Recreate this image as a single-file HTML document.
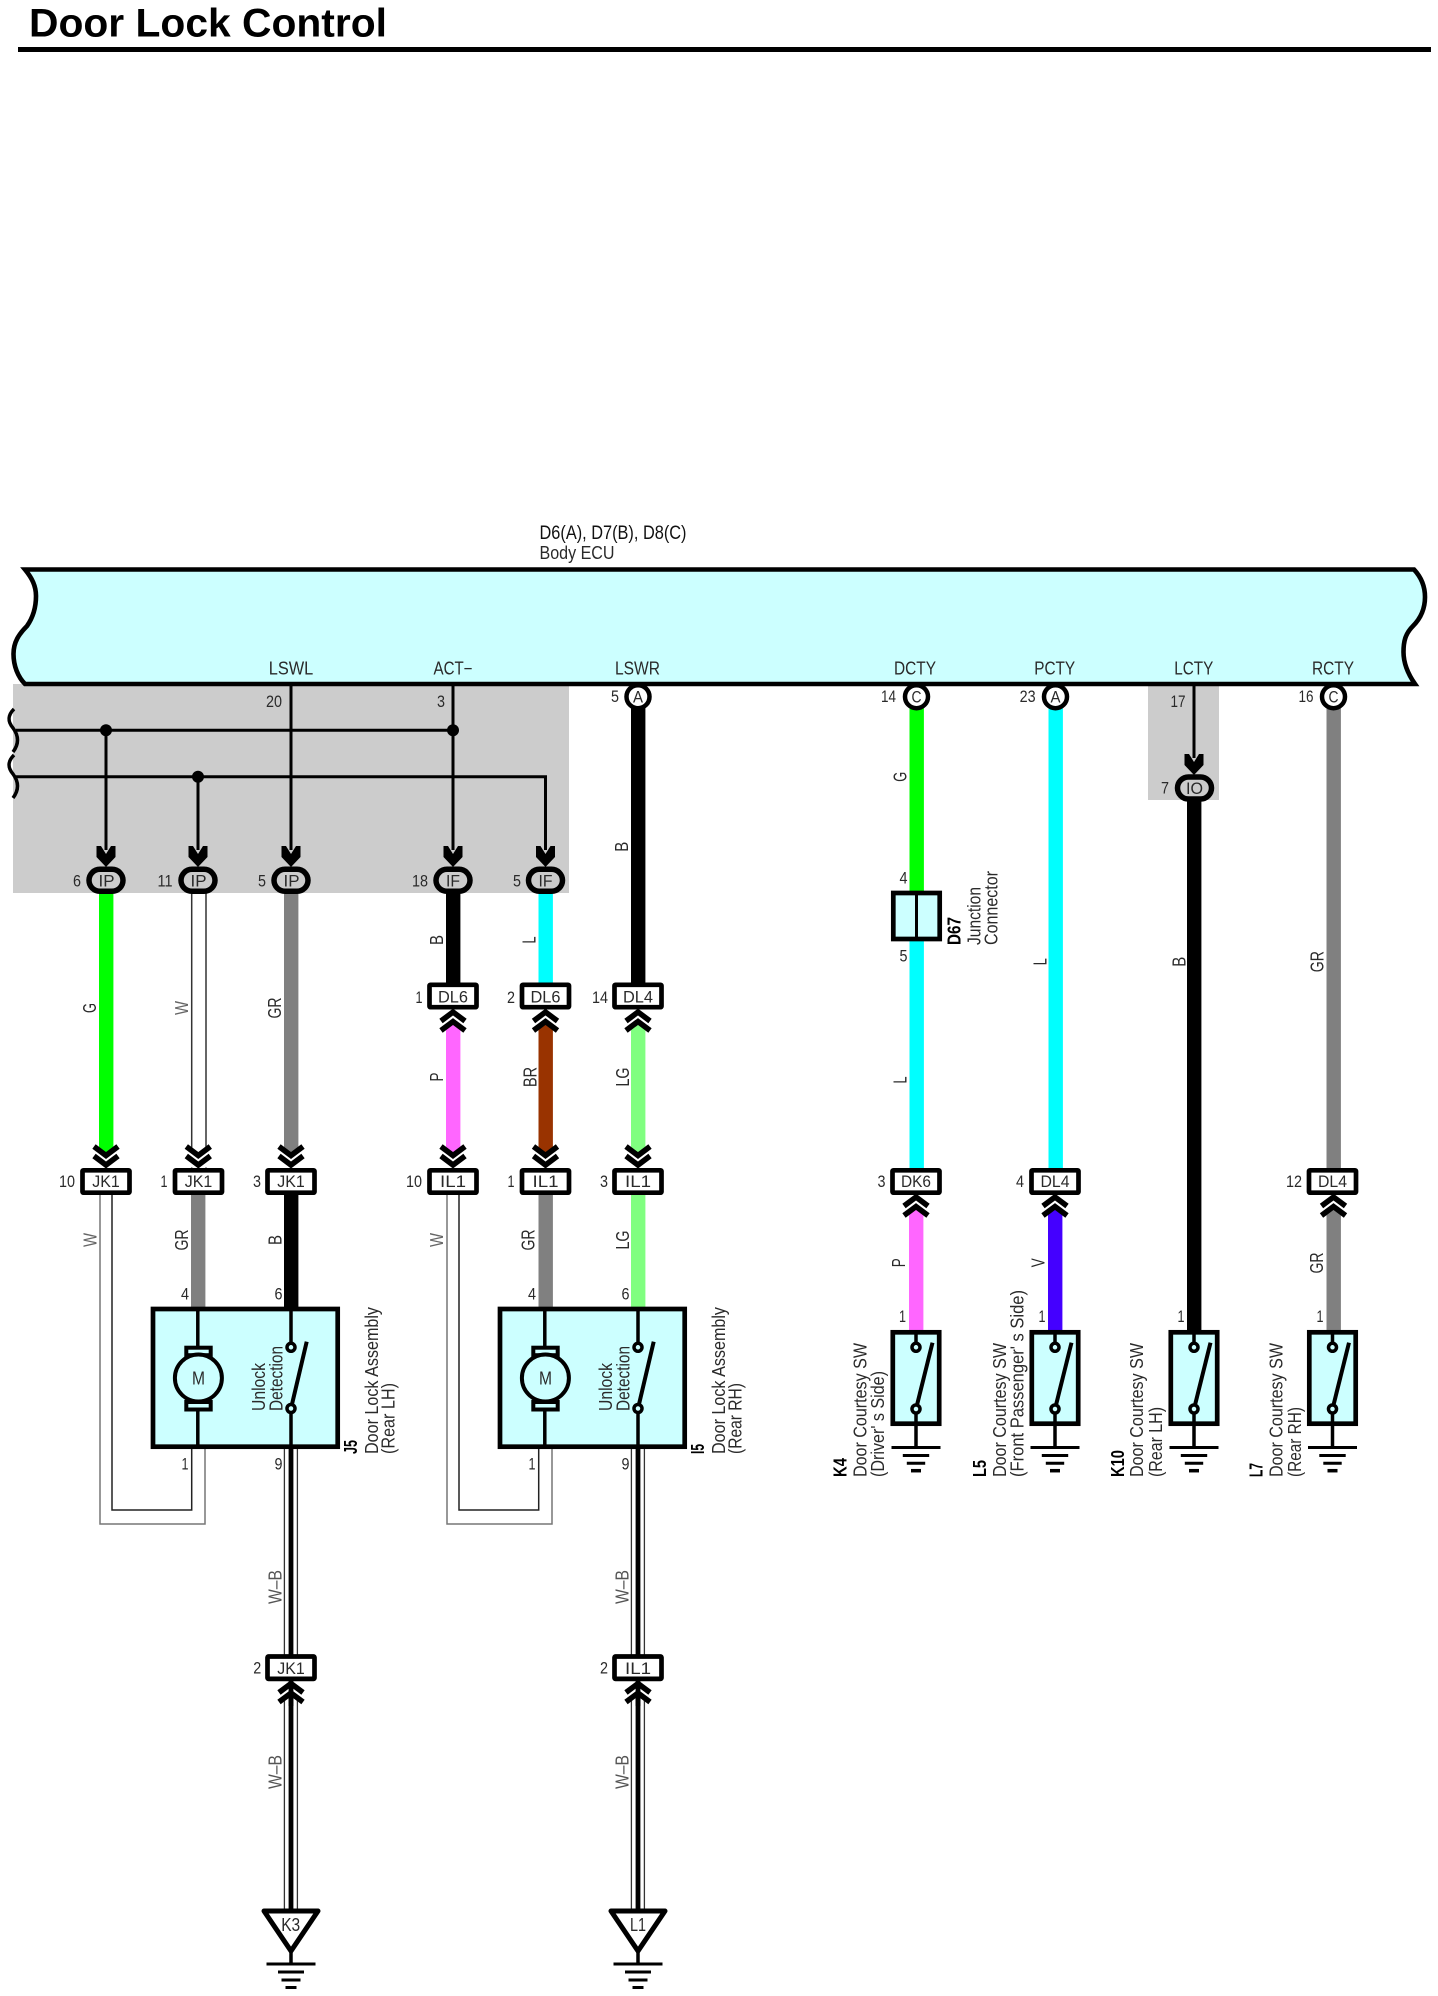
<!DOCTYPE html>
<html><head><meta charset="utf-8"><title>Door Lock Control</title>
<style>
html,body{margin:0;padding:0;background:#fff}
svg{display:block}
text{font-family:"Liberation Sans",Arial,sans-serif;fill:#2a2a2a;font-size:18px}
.m{text-anchor:middle}
.b{font-weight:bold;fill:#000}
.g{fill:#666}
.n{font-size:17px}
</style></head><body>
<svg xmlns="http://www.w3.org/2000/svg" width="1438" height="1996" viewBox="0 0 1438 1996">
<defs>
<g id="cu"><path d="M-9,0H9V18.75L0,12L-9,18.75Z" fill="#fff"/><polyline points="-12,11.5 0,2.5 12,11.5" fill="none" stroke="#000" stroke-width="5.5"/><polyline points="-12,21 0,12 12,21" fill="none" stroke="#000" stroke-width="5.5"/></g>
<g id="ah"><path d="M-9.5,-20L-5,-20L0,-12L5,-20L9.5,-20L9.5,-9L0,1L-9.5,-9Z" fill="#000"/></g>
<rect id="cb" x="-23.5" y="-11.2" width="47" height="22.4" rx="1" fill="#fff" stroke="#000" stroke-width="4.7"/>
<rect id="ov" x="-17" y="-11" width="34" height="22" rx="11" fill="#ccc" stroke="#000" stroke-width="5.5"/>
<circle id="ci" r="11.5" fill="#fff" stroke="#000" stroke-width="4.5"/>
<g id="sw">
<rect x="-23.2" y="1332.3" width="46.4" height="91.4" fill="#ccffff" stroke="#000" stroke-width="4.7"/>
<line x1="0" y1="1332" x2="0" y2="1347" stroke="#000" stroke-width="3.5"/>
<line x1="0" y1="1409" x2="16.5" y2="1342.7" stroke="#000" stroke-width="4"/>
<circle cy="1347.3" r="4" fill="#ccffff" stroke="#000" stroke-width="3.5"/>
<circle cy="1409" r="4" fill="#ccffff" stroke="#000" stroke-width="3.5"/>
<line x1="0" y1="1413" x2="0" y2="1447" stroke="#000" stroke-width="3.5"/>
<line x1="-24.5" y1="1447.5" x2="24.5" y2="1447.5" stroke="#000" stroke-width="3"/>
<line x1="-13.2" y1="1455.5" x2="13.2" y2="1455.5" stroke="#000" stroke-width="3"/>
<line x1="-9.2" y1="1463.3" x2="9.2" y2="1463.3" stroke="#000" stroke-width="3"/>
<line x1="-5" y1="1470.7" x2="5" y2="1470.7" stroke="#000" stroke-width="3.5"/>
</g>
<g id="asm">
<path d="M100,1195V1524H205V1449" fill="none" stroke="#777" stroke-width="1.5"/>
<path d="M112,1195V1510H191.7V1449" fill="none" stroke="#222" stroke-width="1.5"/>
<rect x="153" y="1309" width="184.7" height="137.7" fill="#ccffff" stroke="#000" stroke-width="4.7"/>
<line x1="197.8" y1="1307" x2="197.8" y2="1449" stroke="#000" stroke-width="3.5"/>
<rect x="186.3" y="1347.7" width="24.4" height="7.5" fill="#ccffff" stroke="#000" stroke-width="4"/>
<rect x="186.3" y="1402" width="24.4" height="7.5" fill="#ccffff" stroke="#000" stroke-width="4"/>
<circle cx="198.4" cy="1378" r="23.5" fill="#ccffff" stroke="#000" stroke-width="4"/>
<line x1="291" y1="1307" x2="291" y2="1347" stroke="#000" stroke-width="3.5"/>
<line x1="291" y1="1409" x2="291" y2="1449" stroke="#000" stroke-width="3.5"/>
<line x1="291" y1="1408.5" x2="306.7" y2="1341.7" stroke="#000" stroke-width="4"/>
<circle cx="291" cy="1347.3" r="4" fill="#ccffff" stroke="#000" stroke-width="3.5"/>
<circle cx="291" cy="1408.5" r="4" fill="#ccffff" stroke="#000" stroke-width="3.5"/>
</g>
<g id="gn">
<line x1="0" y1="1952" x2="0" y2="1964" stroke="#000" stroke-width="3.5"/>
<line x1="-24.5" y1="1964" x2="24.5" y2="1964" stroke="#000" stroke-width="3"/>
<line x1="-13" y1="1972" x2="13" y2="1972" stroke="#000" stroke-width="3"/>
<line x1="-9.5" y1="1980" x2="9.5" y2="1980" stroke="#000" stroke-width="3"/>
<line x1="-5.5" y1="1987.5" x2="5.5" y2="1987.5" stroke="#000" stroke-width="3"/>
<path d="M-27,1911H27L0,1951Z" fill="#fff" stroke="#000" stroke-width="5" stroke-linejoin="round"/>
</g>
</defs>

<!-- title -->
<text x="29" y="36.7" class="b" style="font-size:40px" textLength="358" lengthAdjust="spacingAndGlyphs">Door Lock Control</text>
<rect x="18" y="47" width="1413" height="5" fill="#000"/>

<!-- ECU heading -->
<text x="539.5" y="539" style="font-size:19px;fill:#111" textLength="147" lengthAdjust="spacingAndGlyphs">D6(A), D7(B), D8(C)</text>
<text x="539.5" y="559" style="font-size:18px" textLength="75" lengthAdjust="spacingAndGlyphs">Body ECU</text>

<!-- gray zones -->
<rect x="13" y="684" width="556" height="209" fill="#ccc"/>
<rect x="1148" y="684" width="71" height="116" fill="#ccc"/>

<!-- ECU body -->
<path d="M25,569.5H1414C1421,577 1425,586 1425,597C1425,610 1420,619 1413,626C1405,634 1403.5,642 1403.5,652C1403.5,664 1408,674 1415,684H25C18,677 13.5,666 13.5,654C13.5,642 19,634 27,626C34,616 36,606 36,596C36,586 32,578 25,569.5Z" fill="#ccffff" stroke="#000" stroke-width="4.6" stroke-linejoin="miter"/>

<!-- thin harness lines -->
<g fill="none" stroke="#000" stroke-width="3">
<path d="M16,730.3H453"/><path d="M16,776.7H545.5V850"/>
<path d="M106,730V850"/><path d="M198,777V850"/><path d="M291,684V850"/><path d="M453,684V850"/>
<path d="M1194,684V758"/>
<path d="M14,709C7,716 8,722 13,728C19,736 19,744 13,752" stroke-width="3.5"/>
<path d="M14,755C7,762 8,768 13,774C19,782 19,790 13,798" stroke-width="3.5"/>
</g>
<circle cx="106" cy="730.3" r="6" fill="#000"/><circle cx="453" cy="730.3" r="6" fill="#000"/><circle cx="198" cy="776.7" r="6" fill="#000"/>

<!-- thick wires -->
<rect x="99" y="892" width="14.4" height="270" fill="#00ff00"/>
<rect x="191.7" y="892" width="14.3" height="270" fill="#fff"/>
<path d="M191.7,892V1168M206,892V1168" stroke="#333" stroke-width="1.5" fill="none"/>
<rect x="284" y="892" width="14.4" height="270" fill="#808080"/>
<rect x="446" y="892" width="14.4" height="92" fill="#000"/>
<rect x="538.5" y="892" width="14.4" height="92" fill="#00ffff"/>
<rect x="631" y="706" width="14.4" height="278" fill="#000"/>
<rect x="446" y="1010" width="14.4" height="152" fill="#ff66ff"/>
<rect x="538.5" y="1010" width="14.4" height="152" fill="#993300"/>
<rect x="631" y="1010" width="14.4" height="152" fill="#80ff80"/>
<rect x="191" y="1195" width="14.4" height="112" fill="#808080"/>
<rect x="284" y="1195" width="14.4" height="112" fill="#000"/>
<rect x="538.5" y="1195" width="14.4" height="112" fill="#808080"/>
<rect x="631" y="1195" width="14.4" height="112" fill="#80ff80"/>
<rect x="909.5" y="706" width="14.4" height="186" fill="#00ff00"/>
<rect x="909.5" y="940" width="14.4" height="230" fill="#00ffff"/>
<rect x="909" y="1195" width="14.4" height="136" fill="#ff66ff"/>
<rect x="1048.5" y="706" width="14.4" height="464" fill="#00ffff"/>
<rect x="1048" y="1195" width="14.4" height="136" fill="#4400ff"/>
<rect x="1187" y="800" width="14.4" height="531" fill="#000"/>
<rect x="1326.5" y="706" width="14.4" height="464" fill="#808080"/>
<rect x="1326.5" y="1195" width="14.4" height="136" fill="#808080"/>

<!-- door lock assemblies -->
<use href="#asm"/>
<use href="#asm" x="347"/>

<!-- W-B wires -->
<g>
<path d="M284.4,1449V1909M297.4,1449V1909M631.4,1449V1909M644.4,1449V1909" stroke="#333" stroke-width="1.3" fill="none"/>
<path d="M291,1449V1909M638,1449V1909" stroke="#000" stroke-width="4.8" fill="none"/>
</g>

<!-- arrowheads -->
<use href="#ah" x="106" y="866"/><use href="#ah" x="198" y="866"/><use href="#ah" x="291" y="866"/><use href="#ah" x="453" y="866"/><use href="#ah" x="545.5" y="866"/><use href="#ah" x="1194" y="774"/>

<!-- ovals -->
<use href="#ov" x="106" y="880.3"/><use href="#ov" x="198" y="880.3"/><use href="#ov" x="291" y="880.3"/><use href="#ov" x="453" y="880.3"/><use href="#ov" x="545.5" y="880.3"/><use href="#ov" x="1194.5" y="788"/>

<!-- circles -->
<use href="#ci" x="638" y="696.7"/><use href="#ci" x="916.5" y="696.7"/><use href="#ci" x="1055.5" y="696.7"/><use href="#ci" x="1333.5" y="696.7"/>

<!-- chevrons -->
<g transform="translate(106,1167.5) scale(1,-1)"><use href="#cu"/></g>
<g transform="translate(198.3,1167.5) scale(1,-1)"><use href="#cu"/></g>
<g transform="translate(291,1167.5) scale(1,-1)"><use href="#cu"/></g>
<g transform="translate(453,1167.5) scale(1,-1)"><use href="#cu"/></g>
<g transform="translate(545.5,1167.5) scale(1,-1)"><use href="#cu"/></g>
<g transform="translate(638,1167.5) scale(1,-1)"><use href="#cu"/></g>
<use href="#cu" x="453" y="1009.5"/><use href="#cu" x="545.5" y="1009.5"/><use href="#cu" x="638" y="1009.5"/>
<use href="#cu" x="916" y="1194.5"/><use href="#cu" x="1055" y="1194.5"/><use href="#cu" x="1333.5" y="1194.5"/>
<use href="#cu" x="291" y="1681"/><use href="#cu" x="638" y="1681"/>
<path d="M291,1681V1706M638,1681V1706" stroke="#000" stroke-width="4.8" fill="none"/>

<!-- connector boxes -->
<use href="#cb" x="453" y="996"/><use href="#cb" x="545.5" y="996"/><use href="#cb" x="638" y="996"/>
<use href="#cb" x="106" y="1181.5"/><use href="#cb" x="198.5" y="1181.5"/><use href="#cb" x="291" y="1181.5"/>
<use href="#cb" x="453" y="1181.5"/><use href="#cb" x="545.5" y="1181.5"/><use href="#cb" x="638" y="1181.5"/>
<use href="#cb" x="916" y="1181.5"/><use href="#cb" x="1055" y="1181.5"/><use href="#cb" x="1332.5" y="1181.5"/>
<use href="#cb" x="291" y="1667.7"/><use href="#cb" x="638" y="1667.7"/>

<!-- junction connector -->
<rect x="893.3" y="893" width="46.4" height="46" fill="#ccffff" stroke="#000" stroke-width="4.7"/>
<line x1="916.5" y1="893" x2="916.5" y2="939" stroke="#000" stroke-width="3"/>

<!-- switches -->
<use href="#sw" x="916"/><use href="#sw" x="1055"/><use href="#sw" x="1194"/><use href="#sw" x="1332.5"/>

<!-- ground symbols -->
<use href="#gn" x="291"/><use href="#gn" x="638"/>

<!-- ECU pin names -->
<text class="m" x="291" y="674.5" textLength="44.5" lengthAdjust="spacingAndGlyphs">LSWL</text>
<text class="m" x="453" y="674.5" textLength="39" lengthAdjust="spacingAndGlyphs">ACT−</text>
<text class="m" x="637.5" y="674.5" textLength="45" lengthAdjust="spacingAndGlyphs">LSWR</text>
<text class="m" x="915" y="674.5" textLength="42" lengthAdjust="spacingAndGlyphs">DCTY</text>
<text class="m" x="1054.7" y="674.5" textLength="41" lengthAdjust="spacingAndGlyphs">PCTY</text>
<text class="m" x="1193.8" y="674.5" textLength="39" lengthAdjust="spacingAndGlyphs">LCTY</text>
<text class="m" x="1333" y="674.5" textLength="42" lengthAdjust="spacingAndGlyphs">RCTY</text>

<!-- pin numbers -->
<text class="m n" x="274" y="707" textLength="16" lengthAdjust="spacingAndGlyphs">20</text>
<text class="m n" x="441" y="707" textLength="8" lengthAdjust="spacingAndGlyphs">3</text>
<text class="m n" x="615" y="702" textLength="8" lengthAdjust="spacingAndGlyphs">5</text>
<text class="m n" x="888.5" y="702" textLength="15" lengthAdjust="spacingAndGlyphs">14</text>
<text class="m n" x="1027.6" y="702" textLength="16" lengthAdjust="spacingAndGlyphs">23</text>
<text class="m n" x="1178" y="707" textLength="15" lengthAdjust="spacingAndGlyphs">17</text>
<text class="m n" x="1306" y="702" textLength="15" lengthAdjust="spacingAndGlyphs">16</text>
<text class="m n" x="77" y="886.5" textLength="8" lengthAdjust="spacingAndGlyphs">6</text>
<text class="m n" x="165" y="886.5" textLength="15" lengthAdjust="spacingAndGlyphs">11</text>
<text class="m n" x="262" y="886.5" textLength="8" lengthAdjust="spacingAndGlyphs">5</text>
<text class="m n" x="420" y="886.5" textLength="16" lengthAdjust="spacingAndGlyphs">18</text>
<text class="m n" x="517" y="886.5" textLength="8" lengthAdjust="spacingAndGlyphs">5</text>
<text class="m n" x="1165" y="793.5" textLength="8" lengthAdjust="spacingAndGlyphs">7</text>
<text class="m n" x="419" y="1003" textLength="7" lengthAdjust="spacingAndGlyphs">1</text>
<text class="m n" x="511" y="1003" textLength="8" lengthAdjust="spacingAndGlyphs">2</text>
<text class="m n" x="600" y="1003" textLength="16" lengthAdjust="spacingAndGlyphs">14</text>
<text class="m n" x="67" y="1187" textLength="16" lengthAdjust="spacingAndGlyphs">10</text>
<text class="m n" x="164" y="1187" textLength="7" lengthAdjust="spacingAndGlyphs">1</text>
<text class="m n" x="257" y="1187" textLength="8" lengthAdjust="spacingAndGlyphs">3</text>
<text class="m n" x="414" y="1187" textLength="16" lengthAdjust="spacingAndGlyphs">10</text>
<text class="m n" x="511" y="1187" textLength="7" lengthAdjust="spacingAndGlyphs">1</text>
<text class="m n" x="604" y="1187" textLength="8" lengthAdjust="spacingAndGlyphs">3</text>
<text class="m n" x="881.5" y="1187" textLength="8" lengthAdjust="spacingAndGlyphs">3</text>
<text class="m n" x="1020" y="1187" textLength="8" lengthAdjust="spacingAndGlyphs">4</text>
<text class="m n" x="1294" y="1187" textLength="16" lengthAdjust="spacingAndGlyphs">12</text>
<text class="m n" x="185" y="1299.5" textLength="8" lengthAdjust="spacingAndGlyphs">4</text>
<text class="m n" x="278.5" y="1299.5" textLength="8" lengthAdjust="spacingAndGlyphs">6</text>
<text class="m n" x="532" y="1299.5" textLength="8" lengthAdjust="spacingAndGlyphs">4</text>
<text class="m n" x="625.5" y="1299.5" textLength="8" lengthAdjust="spacingAndGlyphs">6</text>
<text class="m n" x="185" y="1469.5" textLength="7" lengthAdjust="spacingAndGlyphs">1</text>
<text class="m n" x="278.5" y="1469.5" textLength="8" lengthAdjust="spacingAndGlyphs">9</text>
<text class="m n" x="532" y="1469.5" textLength="7" lengthAdjust="spacingAndGlyphs">1</text>
<text class="m n" x="625.5" y="1469.5" textLength="8" lengthAdjust="spacingAndGlyphs">9</text>
<text class="m n" x="903.5" y="883.5" textLength="8" lengthAdjust="spacingAndGlyphs">4</text>
<text class="m n" x="903.5" y="961.5" textLength="8" lengthAdjust="spacingAndGlyphs">5</text>
<text class="m n" x="902.5" y="1322" textLength="7" lengthAdjust="spacingAndGlyphs">1</text>
<text class="m n" x="1042" y="1322" textLength="7" lengthAdjust="spacingAndGlyphs">1</text>
<text class="m n" x="1181" y="1322" textLength="7" lengthAdjust="spacingAndGlyphs">1</text>
<text class="m n" x="1320" y="1322" textLength="7" lengthAdjust="spacingAndGlyphs">1</text>
<text class="m n" x="257.3" y="1673.5" textLength="8" lengthAdjust="spacingAndGlyphs">2</text>
<text class="m n" x="604" y="1673.5" textLength="8" lengthAdjust="spacingAndGlyphs">2</text>

<!-- circle/oval labels -->
<text class="m n" x="638" y="702.5" textLength="10" lengthAdjust="spacingAndGlyphs">A</text>
<text class="m n" x="916.5" y="702.5" textLength="10" lengthAdjust="spacingAndGlyphs">C</text>
<text class="m n" x="1055.5" y="702.5" textLength="10" lengthAdjust="spacingAndGlyphs">A</text>
<text class="m n" x="1333.5" y="702.5" textLength="10" lengthAdjust="spacingAndGlyphs">C</text>
<text class="m n" x="106.5" y="886.5" textLength="16" lengthAdjust="spacingAndGlyphs">IP</text>
<text class="m n" x="198.5" y="886.5" textLength="16" lengthAdjust="spacingAndGlyphs">IP</text>
<text class="m n" x="291.5" y="886.5" textLength="16" lengthAdjust="spacingAndGlyphs">IP</text>
<text class="m n" x="453" y="886.5" textLength="14" lengthAdjust="spacingAndGlyphs">IF</text>
<text class="m n" x="545.5" y="886.5" textLength="14" lengthAdjust="spacingAndGlyphs">IF</text>
<text class="m n" x="1194.5" y="794" textLength="17" lengthAdjust="spacingAndGlyphs">IO</text>

<!-- connector labels -->
<text class="m n" x="453" y="1002.5" textLength="30" lengthAdjust="spacingAndGlyphs">DL6</text>
<text class="m n" x="545.5" y="1002.5" textLength="30" lengthAdjust="spacingAndGlyphs">DL6</text>
<text class="m n" x="638" y="1002.5" textLength="30" lengthAdjust="spacingAndGlyphs">DL4</text>
<text class="m n" x="106" y="1187" textLength="27.5" lengthAdjust="spacingAndGlyphs">JK1</text>
<text class="m n" x="198.5" y="1187" textLength="27.5" lengthAdjust="spacingAndGlyphs">JK1</text>
<text class="m n" x="291" y="1187" textLength="27.5" lengthAdjust="spacingAndGlyphs">JK1</text>
<text class="m n" x="453" y="1187" textLength="26" lengthAdjust="spacingAndGlyphs">IL1</text>
<text class="m n" x="545.5" y="1187" textLength="26" lengthAdjust="spacingAndGlyphs">IL1</text>
<text class="m n" x="638" y="1187" textLength="26" lengthAdjust="spacingAndGlyphs">IL1</text>
<text class="m n" x="916" y="1187" textLength="30" lengthAdjust="spacingAndGlyphs">DK6</text>
<text class="m n" x="1055" y="1187" textLength="29" lengthAdjust="spacingAndGlyphs">DL4</text>
<text class="m n" x="1332.5" y="1187" textLength="29" lengthAdjust="spacingAndGlyphs">DL4</text>
<text class="m n" x="291" y="1674" textLength="27.5" lengthAdjust="spacingAndGlyphs">JK1</text>
<text class="m n" x="638" y="1674" textLength="26" lengthAdjust="spacingAndGlyphs">IL1</text>
<text class="m" x="290.7" y="1931" textLength="19" lengthAdjust="spacingAndGlyphs">K3</text>
<text class="m" x="638" y="1931" textLength="16" lengthAdjust="spacingAndGlyphs">L1</text>
<text class="m" x="198.5" y="1384.5" textLength="13" lengthAdjust="spacingAndGlyphs">M</text>
<text class="m" x="545.5" y="1384.5" textLength="13" lengthAdjust="spacingAndGlyphs">M</text>

<!-- wire colour labels (rotated) -->
<text class="m" transform="translate(96,1008) rotate(-90)" textLength="10" lengthAdjust="spacingAndGlyphs">G</text>
<text class="m g" transform="translate(188,1008) rotate(-90)" textLength="14" lengthAdjust="spacingAndGlyphs">W</text>
<text class="m" transform="translate(281,1008) rotate(-90)" textLength="21" lengthAdjust="spacingAndGlyphs">GR</text>
<text class="m" transform="translate(443,940) rotate(-90)" textLength="10" lengthAdjust="spacingAndGlyphs">B</text>
<text class="m" transform="translate(535.5,940) rotate(-90)" textLength="7" lengthAdjust="spacingAndGlyphs">L</text>
<text class="m" transform="translate(628,846.7) rotate(-90)" textLength="10" lengthAdjust="spacingAndGlyphs">B</text>
<text class="m" transform="translate(443,1077) rotate(-90)" textLength="9" lengthAdjust="spacingAndGlyphs">P</text>
<text class="m" transform="translate(536.5,1077) rotate(-90)" textLength="20" lengthAdjust="spacingAndGlyphs">BR</text>
<text class="m" transform="translate(629,1077) rotate(-90)" textLength="19" lengthAdjust="spacingAndGlyphs">LG</text>
<text class="m g" transform="translate(96.5,1240) rotate(-90)" textLength="14" lengthAdjust="spacingAndGlyphs">W</text>
<text class="m" transform="translate(188,1240) rotate(-90)" textLength="21" lengthAdjust="spacingAndGlyphs">GR</text>
<text class="m" transform="translate(281.5,1240) rotate(-90)" textLength="10" lengthAdjust="spacingAndGlyphs">B</text>
<text class="m g" transform="translate(443,1240) rotate(-90)" textLength="14" lengthAdjust="spacingAndGlyphs">W</text>
<text class="m" transform="translate(534.5,1240) rotate(-90)" textLength="21" lengthAdjust="spacingAndGlyphs">GR</text>
<text class="m" transform="translate(629,1240) rotate(-90)" textLength="19" lengthAdjust="spacingAndGlyphs">LG</text>
<text class="m" transform="translate(281.5,1587) rotate(-90)" style="fill:#555" textLength="34" lengthAdjust="spacingAndGlyphs">W–B</text>
<text class="m" transform="translate(628.5,1587) rotate(-90)" style="fill:#555" textLength="34" lengthAdjust="spacingAndGlyphs">W–B</text>
<text class="m" transform="translate(281.5,1772) rotate(-90)" style="fill:#555" textLength="34" lengthAdjust="spacingAndGlyphs">W–B</text>
<text class="m" transform="translate(628.5,1772) rotate(-90)" style="fill:#555" textLength="34" lengthAdjust="spacingAndGlyphs">W–B</text>
<text class="m" transform="translate(906.5,776.7) rotate(-90)" textLength="10" lengthAdjust="spacingAndGlyphs">G</text>
<text class="m" transform="translate(906.5,1080) rotate(-90)" textLength="7" lengthAdjust="spacingAndGlyphs">L</text>
<text class="m" transform="translate(1046.5,961.7) rotate(-90)" textLength="7" lengthAdjust="spacingAndGlyphs">L</text>
<text class="m" transform="translate(1185.5,961.7) rotate(-90)" textLength="10" lengthAdjust="spacingAndGlyphs">B</text>
<text class="m" transform="translate(1323.5,961.7) rotate(-90)" textLength="21" lengthAdjust="spacingAndGlyphs">GR</text>
<text class="m" transform="translate(905,1262.7) rotate(-90)" textLength="9" lengthAdjust="spacingAndGlyphs">P</text>
<text class="m" transform="translate(1044.5,1262.7) rotate(-90)" textLength="9" lengthAdjust="spacingAndGlyphs">V</text>
<text class="m" transform="translate(1323,1263) rotate(-90)" textLength="21" lengthAdjust="spacingAndGlyphs">GR</text>

<!-- D67 -->
<text class="b" transform="translate(960.5,945) rotate(-90)" style="font-size:18px" textLength="28" lengthAdjust="spacingAndGlyphs">D67</text>
<text transform="translate(980.5,945) rotate(-90)" textLength="58" lengthAdjust="spacingAndGlyphs">Junction</text>
<text transform="translate(997.5,945) rotate(-90)" textLength="74" lengthAdjust="spacingAndGlyphs">Connector</text>

<!-- assembly text -->
<text transform="translate(265,1411) rotate(-90)" textLength="48" lengthAdjust="spacingAndGlyphs">Unlock</text>
<text transform="translate(282.3,1411) rotate(-90)" textLength="65" lengthAdjust="spacingAndGlyphs">Detection</text>
<text transform="translate(612,1411) rotate(-90)" textLength="48" lengthAdjust="spacingAndGlyphs">Unlock</text>
<text transform="translate(629.3,1411) rotate(-90)" textLength="65" lengthAdjust="spacingAndGlyphs">Detection</text>
<text class="b" transform="translate(357,1454) rotate(-90)" textLength="14" lengthAdjust="spacingAndGlyphs">J5</text>
<text transform="translate(378,1454) rotate(-90)" textLength="147" lengthAdjust="spacingAndGlyphs">Door Lock Assembly</text>
<text transform="translate(394.5,1454) rotate(-90)" textLength="71" lengthAdjust="spacingAndGlyphs">(Rear LH)</text>
<text class="b" transform="translate(704,1454) rotate(-90)" textLength="10" lengthAdjust="spacingAndGlyphs">I5</text>
<text transform="translate(725,1454) rotate(-90)" textLength="147" lengthAdjust="spacingAndGlyphs">Door Lock Assembly</text>
<text transform="translate(741.5,1454) rotate(-90)" textLength="71" lengthAdjust="spacingAndGlyphs">(Rear RH)</text>

<!-- switch text -->
<text class="b" transform="translate(846.5,1477) rotate(-90)" textLength="19" lengthAdjust="spacingAndGlyphs">K4</text>
<text transform="translate(866.5,1477) rotate(-90)" textLength="134" lengthAdjust="spacingAndGlyphs">Door Courtesy SW</text>
<text transform="translate(884,1477) rotate(-90)" textLength="106" lengthAdjust="spacingAndGlyphs">(Driver' s Side)</text>
<text class="b" transform="translate(986,1477) rotate(-90)" textLength="17" lengthAdjust="spacingAndGlyphs">L5</text>
<text transform="translate(1006,1477) rotate(-90)" textLength="134" lengthAdjust="spacingAndGlyphs">Door Courtesy SW</text>
<text transform="translate(1023.5,1477) rotate(-90)" textLength="187" lengthAdjust="spacingAndGlyphs">(Front Passenger' s Side)</text>
<text class="b" transform="translate(1124,1477) rotate(-90)" textLength="27" lengthAdjust="spacingAndGlyphs">K10</text>
<text transform="translate(1143,1477) rotate(-90)" textLength="134" lengthAdjust="spacingAndGlyphs">Door Courtesy SW</text>
<text transform="translate(1162,1477) rotate(-90)" textLength="70" lengthAdjust="spacingAndGlyphs">(Rear LH)</text>
<text class="b" transform="translate(1262.5,1477) rotate(-90)" textLength="14" lengthAdjust="spacingAndGlyphs">L7</text>
<text transform="translate(1282.5,1477) rotate(-90)" textLength="134" lengthAdjust="spacingAndGlyphs">Door Courtesy SW</text>
<text transform="translate(1301,1477) rotate(-90)" textLength="70" lengthAdjust="spacingAndGlyphs">(Rear RH)</text>
</svg>
</body></html>
